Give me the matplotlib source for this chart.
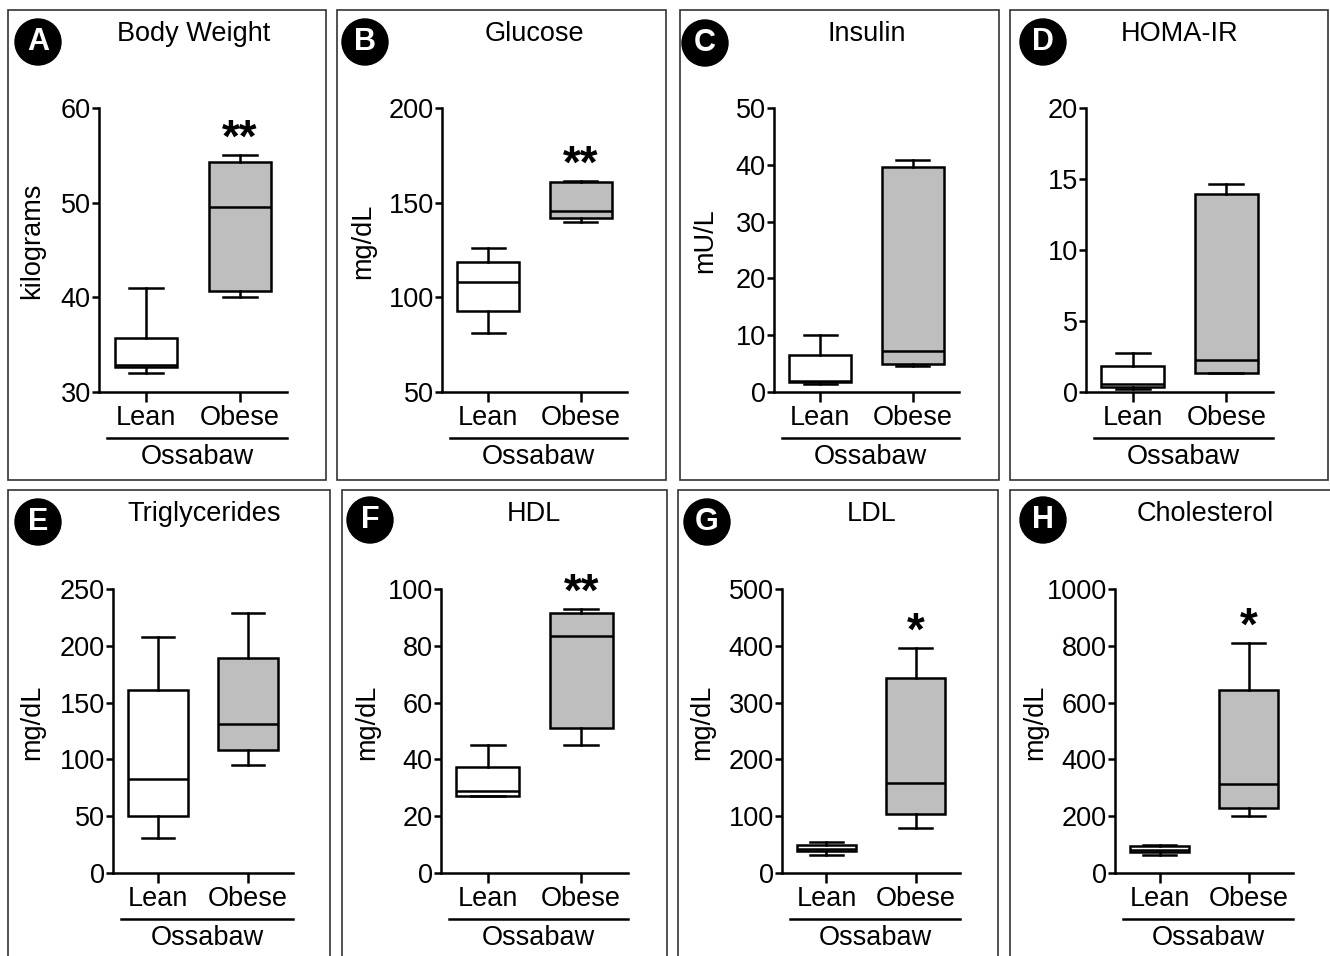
import matplotlib.pyplot as plt
from matplotlib.patches import Circle, Rectangle
from matplotlib.lines import Line2D

plt.rcParams['font.family'] = ['Liberation Sans', 'DejaVu Sans']

# data: [min, Q1, median, Q3, max]
letters = ['A', 'B', 'C', 'D', 'E', 'F', 'G', 'H']
titles = ['Body Weight', 'Glucose', 'Insulin', 'HOMA-IR',
          'Triglycerides', 'HDL', 'LDL', 'Cholesterol']
ylabels = ['kilograms', 'mg/dL', 'mU/L', '', 'mg/dL', 'mg/dL', 'mg/dL', 'mg/dL']
groups = ['Lean', 'Obese']
lean = [
    [32.0, 32.6, 32.9, 35.7, 41.0],
    [80.9, 92.7, 107.9, 118.5, 125.9],
    [1.4, 1.7, 2.0, 6.5, 10.0],
    [0.23, 0.35, 0.55, 1.8, 2.76],
    [30.6, 50.0, 83.0, 160.9, 207.9],
    [27.0, 27.0, 28.8, 37.4, 45.0],
    [31.2, 38.2, 43.0, 50.0, 54.6],
    [64.6, 74.0, 82.0, 95.0, 97.5],
]
obese = [
    [40.0, 40.7, 49.5, 54.25, 55.0],
    [139.6, 142.1, 145.8, 160.8, 161.7],
    [4.56, 4.85, 7.3, 39.6, 40.8],
    [1.36, 1.36, 2.27, 13.96, 14.62],
    [95.3, 108.5, 130.9, 189.4, 229.1],
    [45.0, 51.1, 83.4, 91.4, 92.9],
    [80.0, 104.6, 158.6, 342.5, 396.6],
    [200.0, 229.0, 315.0, 644.0, 808.5],
]
yticks = [
    [30, 40, 50, 60],
    [50, 100, 150, 200],
    [0, 10, 20, 30, 40, 50],
    [0, 5, 10, 15, 20],
    [0, 50, 100, 150, 200, 250],
    [0, 20, 40, 60, 80, 100],
    [0, 100, 200, 300, 400, 500],
    [0, 200, 400, 600, 800, 1000],
]
signif = ['**', '**', '', '', '', '**', '*', '*']

# layout in pixels (left, top, right, bottom)
W, H = 1330, 956
axes_px = [(99, 108, 287, 392), (442, 108, 627, 392), (774, 108, 959, 392),
           (1086, 108, 1273, 392), (113, 589, 293, 873), (441, 589, 628, 873),
           (782, 589, 960, 873), (1115, 589, 1293, 873)]
frames_px = [(8, 10, 326, 480), (337, 10, 666, 480), (680, 10, 999, 480),
             (1010, 10, 1328, 480), (8, 490, 330, 970), (342, 490, 667, 970),
             (678, 490, 998, 970), (1010, 490, 1340, 970)]
circles_px = [(38, 42), (365, 42), (705, 43), (1043, 42),
              (38, 522), (370, 520), (707, 522), (1043, 520)]
titles_px = [(194, 34), (534, 34), (867, 34), (1180, 34),
             (204, 514), (534, 514), (872, 514), (1205, 514)]
ylab_x = [32, 363, 705, 0, 32, 367, 702, 1035]

fig = plt.figure(figsize=(W / 100, H / 100), dpi=100)
inch = fig.dpi_scale_trans


def pt(x, y):
    return x / 100, (H - y) / 100


lw = 1.8
fs = 19.5
for i in range(8):
    l, t, r, b = axes_px[i]
    ax = fig.add_axes([l / W, 1 - b / H, (r - l) / W, (b - t) / H])
    stats = []
    for s in (lean[i], obese[i]):
        stats.append(dict(whislo=s[0], q1=s[1], med=s[2], q3=s[3], whishi=s[4], fliers=[]))
    bp = ax.bxp(stats, positions=[0, 1], widths=0.67, patch_artist=True,
                showfliers=False, capwidths=0.36,
                boxprops=dict(edgecolor='black', linewidth=lw),
                medianprops=dict(color='black', linewidth=lw),
                whiskerprops=dict(color='black', linewidth=lw),
                capprops=dict(color='black', linewidth=lw))
    bp['boxes'][0].set_facecolor('white')
    bp['boxes'][1].set_facecolor('#bebebe')
    ax.set_xlim(-0.5, 1.5)
    ax.set_ylim(yticks[i][0], yticks[i][-1])
    ax.set_yticks(yticks[i])
    ax.set_xticks([0, 1], groups)
    for sp in ['top', 'right']:
        ax.spines[sp].set_visible(False)
    for sp in ['left', 'bottom']:
        ax.spines[sp].set_linewidth(lw)
    ax.tick_params(axis='y', length=5, width=lw, pad=1, labelsize=fs)
    ax.tick_params(axis='x', length=7, width=lw, pad=2, labelsize=fs)
    ax.patch.set_alpha(0)

    if signif[i]:
        ax.annotate(signif[i], xy=(1, obese[i][4]), xytext=(0, 11),
                    textcoords='offset points', ha='center', va='center',
                    fontsize=33, fontweight='bold', annotation_clip=False)

    # group line + label
    x0, y0 = pt(l + 8, b + 46)
    x1, _ = pt(r, b + 46)
    fig.add_artist(Line2D([x0, x1], [y0, y0], color='black', lw=lw, transform=inch))
    fig.text(*pt((l + 8 + r) / 2, b + 65), 'Ossabaw', transform=inch,
             ha='center', va='center', fontsize=fs)

    if ylabels[i]:
        fig.text(*pt(ylab_x[i], (t + b) / 2 - 9), ylabels[i], transform=inch,
                 rotation=90, ha='center', va='center', fontsize=fs)

    fl, ft, fr, fb = frames_px[i]
    fig.add_artist(Rectangle(pt(fl, fb), (fr - fl) / 100, (fb - ft) / 100,
                             fill=False, edgecolor='#333333', lw=1.2, transform=inch))
    fig.add_artist(Circle(pt(*circles_px[i]), 0.23, color='black', transform=inch))
    fig.text(*pt(*circles_px[i]), letters[i], transform=inch, color='white',
             ha='center', va='center', fontsize=22, fontweight='bold')
    fig.text(*pt(*titles_px[i]), titles[i], transform=inch,
             ha='center', va='center', fontsize=fs)

fig.savefig('out.png', dpi=100)
